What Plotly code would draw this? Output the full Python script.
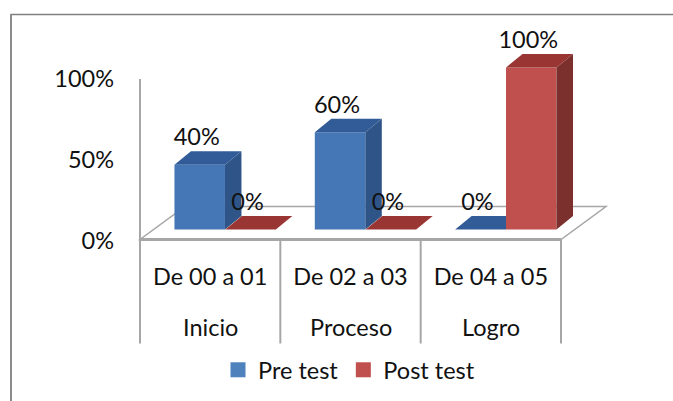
import plotly.graph_objects as go

categories = ["De 00 a 01", "De 02 a 03", "De 04 a 05"]
groups = ["Inicio", "Proceso", "Logro"]
pre_test = [40, 60, 0]
post_test = [0, 0, 100]
y_ticks = [0, 50, 100]

W, H = 673, 401
left, right, top, bottom = 130, 645, 14, 250
axis_left, axis_bottom = 140, 241  # where category 0 starts and where 0% sits
px_x = (561 - 140) / 3  # pixels per category
px_y = 1.62  # pixels per percent

x_a, x_b = -0.5, 2.5
x_range = [x_a - (axis_left - left) / px_x, x_a + (right - axis_left) / px_x]
y_range = [-(bottom - axis_bottom) / px_y, (axis_bottom - top) / px_y]
x_domain = [left / W, right / W]
y_domain = [1 - bottom / H, 1 - top / H]

bar_w = 50.5 / px_x
base = 11.5 / px_y  # bars stand on the floor, above the axis zero
dx = 16.5 / px_x  # depth of a bar
dy = 13.5 / px_y
floor_y = 1.5 / px_y  # front edge of the floor
floor_dx = 45 / px_x
floor_dy = 33 / px_y
label_up = 25.5 / px_y

FONT = "Lato, Carlito, Calibri, sans-serif"
FONT_SIZE = 23.5
TEXT = "#111111"
GRAY = "#a6a6a6"


def paper_x(px):
    return px / W


def paper_y(px):
    return 1 - px / H


def polygon(points, color, xaxis, yaxis):
    xs, ys = zip(*points)
    return go.Scatter(
        x=list(xs) + [xs[0]],
        y=list(ys) + [ys[0]],
        mode="lines",
        fill="toself",
        fillcolor=color,
        line=dict(width=0),
        hoverinfo="skip",
        showlegend=False,
        xaxis=xaxis,
        yaxis=yaxis,
    )


def add_series(fig, name, values, offset, front, side, roof, xaxis, yaxis):
    xs = [i + offset for i in range(len(values))]
    fig.add_trace(
        go.Bar(
            x=xs,
            y=values,
            base=[base] * len(values),
            width=bar_w,
            marker=dict(color=front, line=dict(width=0)),
            name=name,
            showlegend=False,
            xaxis=xaxis,
            yaxis=yaxis,
        )
    )
    for x, v in zip(xs, values):
        x0, x1 = x - bar_w / 2, x + bar_w / 2
        y0, y1 = base, base + v
        if v > 0:
            fig.add_trace(
                polygon(
                    [(x1, y0), (x1 + dx, y0 + dy), (x1 + dx, y1 + dy), (x1, y1)],
                    side, xaxis, yaxis,
                )
            )
        fig.add_trace(
            polygon(
                [(x0, y1), (x1, y1), (x1 + dx, y1 + dy), (x0 + dx, y1 + dy)],
                roof, xaxis, yaxis,
            )
        )


fig = go.Figure()

add_series(fig, "Pre test", pre_test, -0.0745, "#4577b6", "#2f5588", "#315c98", "x", "y")
add_series(fig, "Post test", post_test, 0.288, "#c0504d", "#7c302e", "#993634", "x2", "y2")

# data labels
label_x, label_y, label_text = [], [], []
for offset, values in ((-0.0745, pre_test), (0.288, post_test)):
    for i, v in enumerate(values):
        label_x.append(i + offset - 3 / px_x)
        label_y.append(base + v + label_up)
        label_text.append(f"{v}%")
fig.add_trace(
    go.Scatter(
        x=label_x,
        y=label_y,
        text=label_text,
        mode="text",
        textposition="middle center",
        textfont=dict(family=FONT, size=FONT_SIZE, color=TEXT),
        hoverinfo="skip",
        showlegend=False,
        xaxis="x2",
        yaxis="y2",
        cliponaxis=False,
    )
)

# legend swatches
for name, color in (("Pre test", "#4f81bd"), ("Post test", "#c0504d")):
    fig.add_trace(
        go.Scatter(
            x=[None],
            y=[None],
            mode="markers",
            marker=dict(symbol="square", size=15, color=color),
            name=name,
            xaxis="x2",
            yaxis="y2",
        )
    )

floor = (
    f"M {x_a} {floor_y} L {x_b} {floor_y} L {x_b + floor_dx} {floor_y + floor_dy} "
    f"L {x_a + floor_dx} {floor_y + floor_dy} Z"
)
shapes = [
    dict(type="path", path=floor, xref="x", yref="y", layer="below",
         line=dict(color=GRAY, width=1.5), fillcolor="white"),
    dict(type="line", xref="x", yref="y", x0=x_a, x1=x_b, y0=floor_y, y1=floor_y, layer="below",
         line=dict(color=GRAY, width=3)),
    dict(type="line", xref="x", yref="y", x0=x_a, x1=x_a, y0=floor_y, y1=y_ticks[-1], layer="below",
         line=dict(color=GRAY, width=2)),
    # outer frame, top and left only
    dict(type="line", xref="paper", yref="paper",
         x0=paper_x(10.5), x1=paper_x(W), y0=paper_y(14.5), y1=paper_y(14.5),
         line=dict(color="#808080", width=1.3)),
    dict(type="line", xref="paper", yref="paper",
         x0=paper_x(11), x1=paper_x(11), y0=paper_y(14), y1=paper_y(H),
         line=dict(color="#8c8c8c", width=2)),
]
# category dividers run down through both label rows
for i in range(len(categories) + 1):
    shapes.append(
        dict(type="line", xref="x", yref="paper", x0=x_a + i, x1=x_a + i,
             y0=paper_y(239.5), y1=paper_y(343.5),
             line=dict(color=GRAY, width=2))
    )

annotations = [
    dict(text=g, x=i, xref="x", y=paper_y(327), yref="paper",
         xanchor="center", yanchor="middle", showarrow=False,
         font=dict(family=FONT, size=FONT_SIZE, color=TEXT))
    for i, g in enumerate(groups)
]

axis_x = dict(
    domain=x_domain,
    range=x_range,
    tickvals=list(range(len(categories))),
    ticktext=categories,
    ticks="",
    showgrid=False,
    zeroline=False,
    showline=False,
    tickfont=dict(family=FONT, size=FONT_SIZE, color=TEXT),
    ticklabelstandoff=10,
)
axis_y = dict(
    domain=y_domain,
    range=y_range,
    tickvals=y_ticks,
    ticktext=[f"{t}%" for t in y_ticks],
    ticks="",
    showgrid=False,
    zeroline=False,
    showline=False,
    tickfont=dict(family=FONT, size=FONT_SIZE, color=TEXT),
    ticklabelstandoff=15,
)

fig.update_layout(
    width=W,
    height=H,
    margin=dict(l=0, r=0, t=0, b=0, autoexpand=False),
    paper_bgcolor="white",
    plot_bgcolor="rgba(0,0,0,0)",
    barmode="overlay",
    xaxis=axis_x,
    yaxis=axis_y,
    xaxis2=dict(domain=x_domain, range=x_range, overlaying="x", visible=False),
    yaxis2=dict(domain=y_domain, range=y_range, overlaying="y", visible=False),
    shapes=shapes,
    annotations=annotations,
    showlegend=True,
    legend=dict(
        orientation="h",
        x=paper_x(218),
        xanchor="left",
        y=paper_y(370),
        yanchor="middle",
        font=dict(family=FONT, size=FONT_SIZE, color=TEXT),
        bgcolor="rgba(0,0,0,0)",
    ),
)

fig.write_html(
    "out.html",
    config={"displayModeBar": False},
    post_script="document.body.style.margin='0';",
)
